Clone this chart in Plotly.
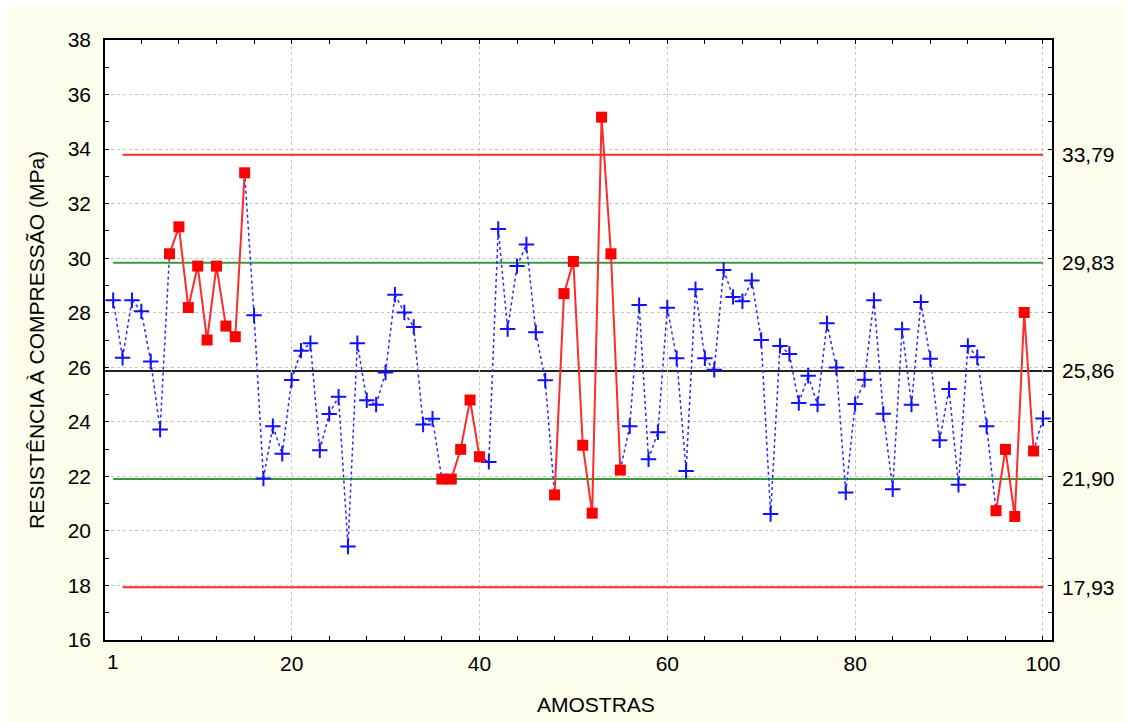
import plotly.graph_objects as go

# ---- data ----
samples = list(range(1, 101))
resistance = [
    28.46, 26.35, 28.46, 28.05, 26.21, 23.72, 30.16, 31.15, 28.19, 29.71,
    27.00, 29.71, 27.51, 27.12, 33.13, 27.91, 21.92, 23.84, 22.83, 25.53,
    26.61, 26.88, 22.96, 24.29, 24.92, 19.43, 26.88, 24.79, 24.63, 25.81,
    28.66, 28.01, 27.48, 23.90, 24.11, 21.90, 21.90, 22.99, 24.80, 22.72,
    22.53, 31.07, 27.40, 29.71, 30.50, 27.28, 25.52, 21.32, 28.70, 29.88,
    23.14, 20.65, 35.17, 30.16, 22.23, 23.84, 28.28, 22.63, 23.62, 28.18,
    26.33, 22.20, 28.86, 26.33, 25.91, 29.57, 28.58, 28.42, 29.18, 27.00,
    20.62, 26.78, 26.49, 24.69, 25.69, 24.63, 27.61, 25.99, 21.41, 24.65,
    25.54, 28.46, 24.30, 21.53, 27.39, 24.63, 28.39, 26.31, 23.32, 25.20,
    21.69, 26.78, 26.37, 23.84, 20.74, 22.99, 20.53, 28.01, 22.93, 24.12,
]
flagged = [7, 8, 9, 10, 11, 12, 13, 14, 15,
           36, 37, 38, 39, 40,
           48, 49, 50, 51, 52, 53, 54, 55,
           95, 96, 97, 98, 99]

ucl, uwl, center, lwl, lcl = 33.79, 29.83, 25.86, 21.90, 17.93
limit_labels = ["33,79", "29,83", "25,86", "21,90", "17,93"]
x_tick_vals = [20, 40, 60, 80, 100]
x_tick_text = ["20", "40", "60", "80", "100"]

FONT = "Liberation Sans, Arial, sans-serif"
FS = 21
CREAM = "#FDFDEC"
GRID = "#C4C4C4"
fs = set(flagged)

# blue dotted line: segments except those joining two flagged points
bx, by = [], []
for i in range(len(samples) - 1):
    a, b = samples[i], samples[i + 1]
    if a in fs and b in fs:
        continue
    bx += [a, b, None]
    by += [resistance[i], resistance[i + 1], None]

blue_x = [s for s in samples if s not in fs]
blue_y = [v for s, v in zip(samples, resistance) if s not in fs]
red_y = [v if s in fs else None for s, v in zip(samples, resistance)]

fig = go.Figure()

# limit lines
fig.add_trace(go.Scatter(x=[samples[1], samples[-1]], y=[ucl, ucl], mode="lines",
                         line=dict(color="#FF2A2A", width=2), hoverinfo="skip"))
fig.add_trace(go.Scatter(x=[samples[1], samples[-1]], y=[lcl, lcl], mode="lines",
                         line=dict(color="#FF2A2A", width=2), hoverinfo="skip"))
fig.add_trace(go.Scatter(x=[samples[0], samples[-1]], y=[uwl, uwl], mode="lines",
                         line=dict(color="#3A9A3A", width=2), hoverinfo="skip"))
fig.add_trace(go.Scatter(x=[samples[0], samples[-1]], y=[lwl, lwl], mode="lines",
                         line=dict(color="#3A9A3A", width=2), hoverinfo="skip"))
fig.add_hline(y=center, line=dict(color="#222222", width=2), layer="below")

# data
fig.add_trace(go.Scatter(x=bx, y=by, mode="lines",
                         line=dict(color="#2A2AFF", width=1.5, dash="dot"),
                         connectgaps=False, hoverinfo="skip"))
fig.add_trace(go.Scatter(x=blue_x, y=blue_y, mode="markers",
                         marker=dict(symbol="cross-thin", size=11,
                                     line=dict(color="#1010FF", width=2))))
fig.add_trace(go.Scatter(x=samples, y=red_y, mode="lines+markers", connectgaps=False,
                         line=dict(color="#FF2A2A", width=2),
                         marker=dict(symbol="square", size=11, color="#FF0000")))
# dummy trace for right axis
fig.add_trace(go.Scatter(x=[samples[0]], y=[center], mode="markers", yaxis="y2",
                         marker=dict(opacity=0), hoverinfo="skip"))

fig.update_layout(
    width=1125, height=714,
    margin=dict(l=97, r=81, t=32, b=82, autoexpand=False),
    showlegend=False,
    paper_bgcolor=CREAM, plot_bgcolor="white",
    font=dict(family=FONT, size=FS, color="black"),
    xaxis=dict(
        range=[0.13, 100.96], tickvals=x_tick_vals, ticktext=x_tick_text,
        ticks="", showgrid=True, gridcolor=GRID, griddash="dot", gridwidth=1,
        showline=True, linecolor="black", linewidth=1.5, mirror="ticks", zeroline=False,
        minor=dict(tick0=0, dtick=4, ticks="inside", ticklen=4, tickcolor="black",
                   tickwidth=1, showgrid=False),
        ticklabelstandoff=4, automargin=False,
    ),
    yaxis=dict(
        range=[16, 38], tick0=16, dtick=2, ticks="inside", ticklen=4, tickcolor="black",
        showgrid=True, gridcolor=GRID, griddash="dot", gridwidth=1,
        showline=True, linecolor="black", linewidth=1.5, mirror="ticks", zeroline=False,
        minor=dict(dtick=1, ticks="inside", ticklen=4, tickcolor="black", showgrid=False),
        ticklabelstandoff=8, automargin=False,
    ),
    yaxis2=dict(
        overlaying="y", side="right", range=[16, 38],
        tickvals=[ucl, uwl, center, lwl, lcl], ticktext=limit_labels,
        ticks="", showgrid=False, showline=False, zeroline=False,
        ticklabelstandoff=9, automargin=False,
    ),
    annotations=[
        dict(x=samples[0], xref="x", y=0, yref="paper", yanchor="top",
             yshift=-8, text="1", showarrow=False, font=dict(family=FONT, size=FS)),
        dict(x=0.5185, xref="paper", y=-0.1083, yref="paper", xanchor="center",
             yanchor="middle", text="AMOSTRAS", showarrow=False,
             font=dict(family=FONT, size=FS)),
        dict(x=-0.0729, xref="paper", y=0.5, yref="paper", xanchor="center",
             yanchor="middle", textangle=-90, text="RESISTÊNCIA À COMPRESSÃO (MPa)",
             showarrow=False, font=dict(family=FONT, size=FS)),
    ],
)

fig.write_html("out.html")
